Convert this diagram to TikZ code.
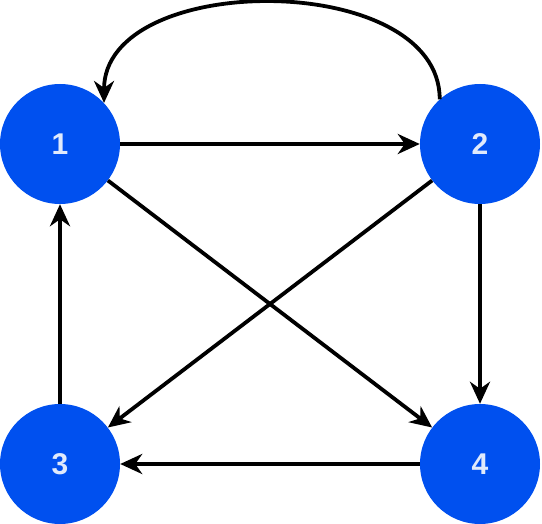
\documentclass[tikz,border=0pt]{standalone}
\usepackage{fontspec}
\setmainfont{Liberation Sans}
\usepackage{tikz}
\usetikzlibrary{arrows.meta,positioning}
\definecolor{nodeblue}{RGB}{0,80,239}
\definecolor{labelwhite}{RGB}{224,234,252}

\begin{document}
\begin{tikzpicture}[x=1pt, y=-1pt,
    vertex/.style={circle, fill=nodeblue, minimum size=120pt, inner sep=0pt,
        text=labelwhite, font=\fontsize{30}{30}\selectfont\bfseries},
    edge/.style={line width=3.8pt, -{Stealth[length=22pt, width=20pt, inset=7pt]}}]
        \useasboundingbox (0,0) rectangle (542,524);
        \node[vertex] (n1) at (60,144) {1};
        \node[vertex] (n2) at (480,144) {2};
        \node[vertex] (n3) at (60,464) {3};
        \node[vertex] (n4) at (480,464) {4};
        \draw[edge] (n1) -- (n2);
        \draw[edge] (n2.132) .. controls (440,-30) and (104,-30) .. (n1.43);
        \draw[edge] (n1) -- (n4);
        \draw[edge] (n2) -- (n3);
        \draw[edge] (n2) -- (n4);
        \draw[edge] (n3) -- (n1);
        \draw[edge] (n4) -- (n3);
      \end{tikzpicture}
\end{document}
